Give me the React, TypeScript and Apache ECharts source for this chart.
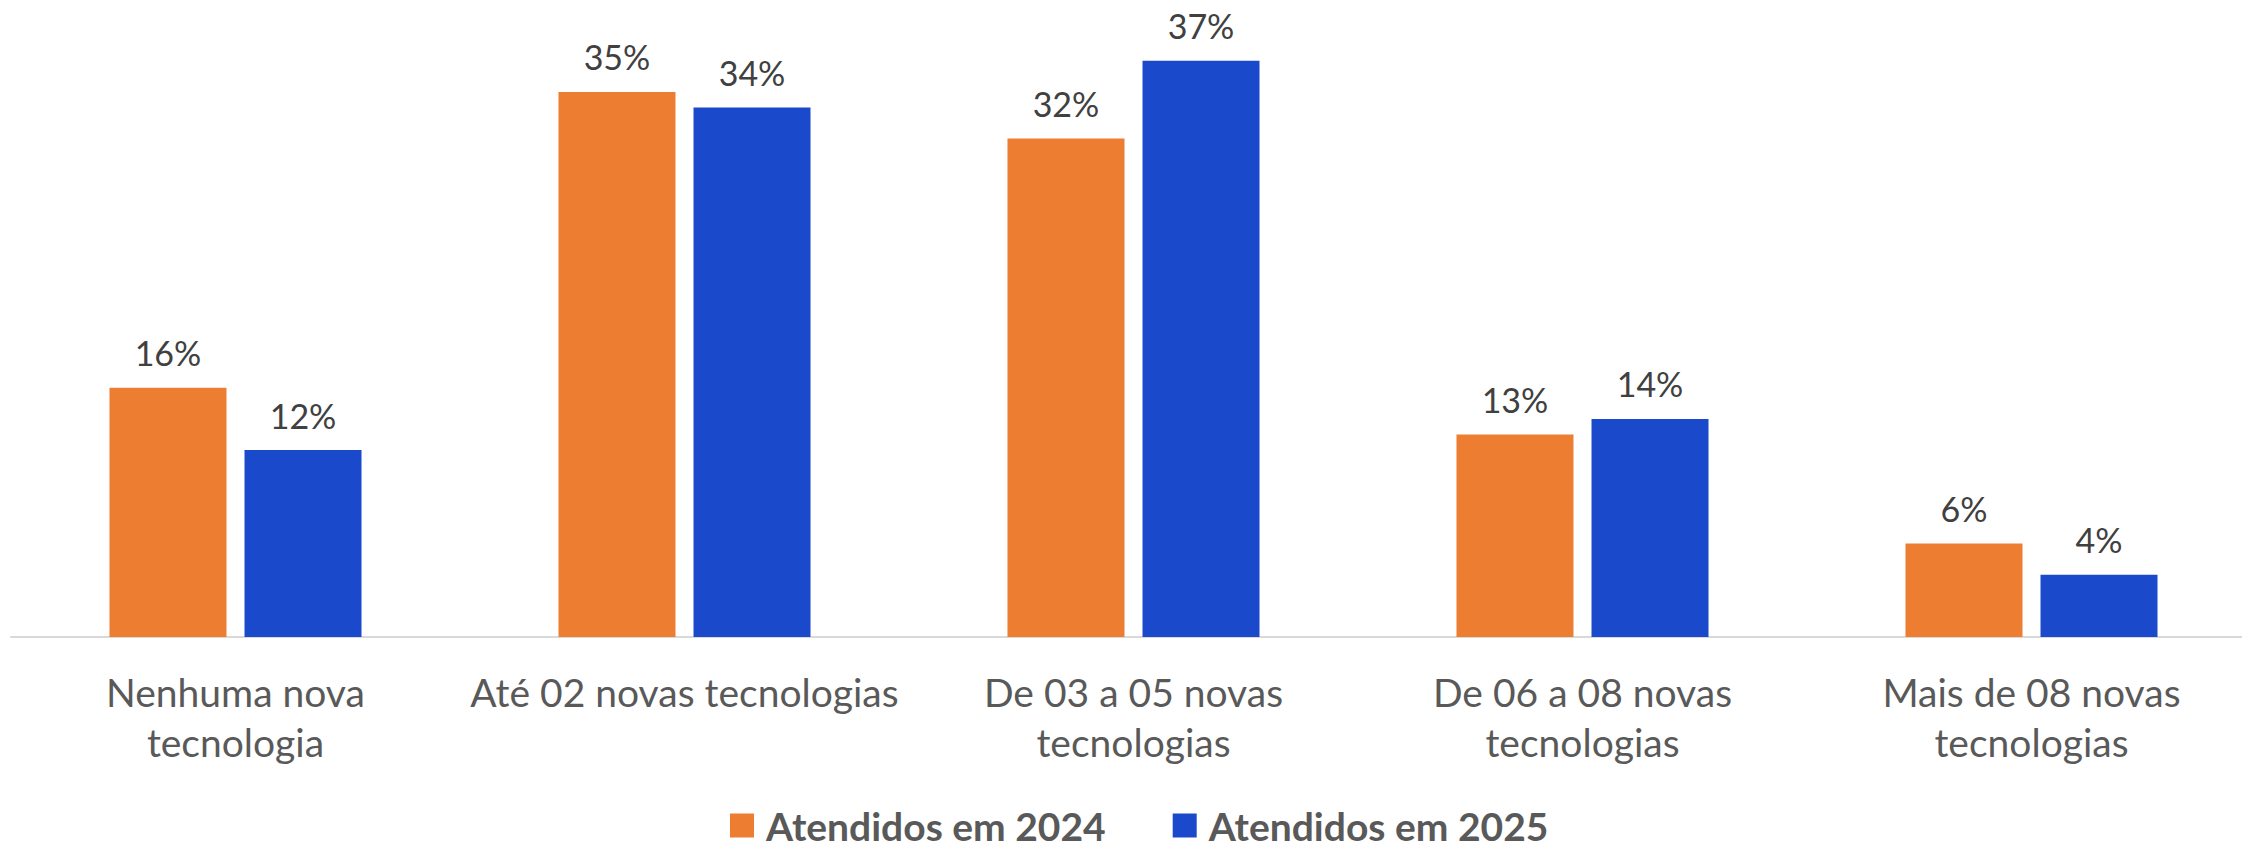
import React, { useEffect, useRef } from "react";
import * as echarts from "echarts";

const categories = [
  "Nenhuma nova\ntecnologia",
  "Até 02 novas tecnologias",
  "De 03 a 05 novas\ntecnologias",
  "De 06 a 08 novas\ntecnologias",
  "Mais de 08 novas\ntecnologias",
];
const series2024 = [16, 35, 32, 13, 6];
const series2025 = [12, 34, 37, 14, 4];
const seriesNames = ["Atendidos em 2024", "Atendidos em 2025"];

const FONT = "Lato, 'Open Sans', sans-serif";

export default function App() {
  const ref = useRef<HTMLDivElement>(null);
  useEffect(() => {
    if (!ref.current) return;
    const chart = echarts.init(ref.current, undefined, { renderer: "svg" });
    const label = {
      show: true,
      position: "top",
      distance: 18,
      formatter: "{c}%",
      color: "#404040",
      fontFamily: FONT,
      fontSize: 34,
    };
    chart.setOption({
      animation: false,
      backgroundColor: "#ffffff",
      textStyle: { fontFamily: FONT },
      legend: {
        left: 730,
        top: 806,
        padding: 0,
        itemWidth: 24,
        itemHeight: 24,
        itemGap: 67,
        icon: "rect",
        textStyle: {
          fontFamily: FONT,
          fontSize: 39,
          lineHeight: 38,
          fontWeight: "bold",
          color: "#595959",
          padding: [0, 0, 0, 7],
        },
        data: seriesNames,
      },
      grid: { left: 11, top: 14, width: 2245, height: 623, containLabel: false },
      xAxis: {
        type: "category",
        data: categories,
        axisLine: { show: true, lineStyle: { color: "#D9D9D9", width: 2 } },
        axisTick: { show: false },
        axisLabel: {
          interval: 0,
          margin: 30,
          color: "#595959",
          fontFamily: FONT,
          fontSize: 39,
          lineHeight: 50,
          verticalAlign: "top",
        },
      },
      yAxis: {
        type: "value",
        min: 0,
        max: 40,
        show: false,
        splitLine: { show: false },
      },
      series: [
        {
          name: seriesNames[0],
          type: "bar",
          data: series2024,
          barWidth: 117,
          barGap: "15.4%",
          itemStyle: { color: "#ED7D31" },
          label,
        },
        {
          name: seriesNames[1],
          type: "bar",
          data: series2025,
          barWidth: 117,
          barGap: "15.4%",
          itemStyle: { color: "#1A49CB" },
          label,
        },
      ],
    });
    return () => chart.dispose();
  }, []);
  return (
    <div
      style={{
        position: "absolute",
        left: 0,
        top: 0,
        width: 2242,
        height: 847,
        overflow: "hidden",
      }}
    >
      <div ref={ref} style={{ width: 2270, height: 847 }} />
    </div>
  );
}
